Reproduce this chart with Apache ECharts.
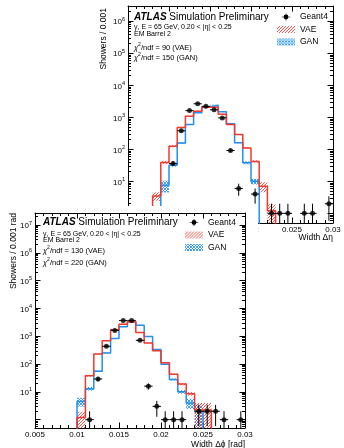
<!DOCTYPE html>
<html><head><meta charset="utf-8">
<script src="https://cdn.jsdelivr.net/npm/echarts@6/dist/echarts.min.js"></script>
<style>
html,body{margin:0;padding:0;background:#fff;}
#eta{position:absolute;left:0;top:0;width:344px;height:448px;}
#phi{position:absolute;left:0;top:206px;width:258px;height:242px;background:#fff;}
</style></head><body>
<div id="eta"></div><div id="phi"></div>
<script>
// ---- data ----
const binEdges = [0.005,0.006,0.007,0.008,0.009,0.010,0.011,0.012,0.013,0.014,0.015,0.016,0.017,0.018,0.019,0.020,0.021,0.022,0.023,0.024,0.025,0.026,0.027,0.028,0.029,0.030];
const xTicks = [0.005,0.01,0.015,0.02,0.025,0.03];

const vaeEta    = [0,0,0,3.5,39,125,480,1080,1550,2050,2050,1250,600,290,110,42,7,1.2,0,0,0,0,0,0,0];
const vaeEtaErr = [0,0,0,0.3,0.12,0.07,0.04,0.03,0.03,0.03,0.03,0.03,0.03,0.03,0.05,0.08,0.35,0.6,0,0,0,0,0,0,0];
const ganEta    = [0,0,0,0,7.5,32,158,600,1400,2100,2400,1500,630,162,38,10,0,0,0,0,0,0,0,0,0];
const ganEtaErr = [0,0,0,0,0.4,0.1,0.05,0.03,0.03,0.03,0.03,0.03,0.03,0.04,0.1,0.2,0,0,0,0,0,0,0,0,0];
const g4Eta     = [0,0,0,0,0,36,380,1620,2650,2200,1720,960,92,6,0,4,0,1,1,1,0,1,1,0,2];

const vaePhi    = [0,0,0,0,0,1.2,38,230,680,1700,2700,3300,1350,575,300,110,43,19,8.5,2.2,2.2,0,0,0,0];
const vaePhiErr = [0,0,0,0,0,0.6,0.08,0.04,0.03,0.03,0.03,0.03,0.03,0.03,0.03,0.03,0.06,0.1,0.15,0.8,0.8,0,0,0,0];
const ganPhi    = [0,0,0,0,0,4.5,13,55,250,830,2200,3300,2500,970,330,98,28,10,4,2,0,0,0,0,0];
const ganPhiErr = [0,0,0,0,0,0.35,0.15,0.06,0.03,0.03,0.03,0.03,0.03,0.03,0.03,0.04,0.08,0.15,0.4,0.75,0,0,0,0,0];
const g4Phi     = [0,0,0,0,0,0,1,29,434,1620,3650,3700,710,16,3,1,1,1,0,2,2,2,1,0,1];

const etaYRange = [0.5, 3e6];
const phiYRange = [0.5, 2.7e7];
const decades = [0.1,1,10,100,1e3,1e4,1e5,1e6,1e7];
const minorMultipliers = [2,3,4,5,6,7,8,9];

// ---- styling ----
const FONT = '"Liberation Sans", Arial, Helvetica, sans-serif';
const RED = '#f5372e';
const BLUE = '#1e90f0';
const FLOOR = 0.2;

function hatch(color, cross) {
  const c = document.createElement('canvas');
  c.width = 3; c.height = 3;
  const g = c.getContext('2d');
  g.fillStyle = color;
  for (let i = 0; i < 3; i++) {
    g.fillRect(i, 2 - i, 1, 1);
    if (cross) g.fillRect(i, i, 1, 1);
  }
  return {image: c, repeat: 'repeat'};
}
const redPat = hatch('rgba(245,55,46,0.85)', false);
const bluePat = hatch('rgba(30,144,240,0.85)', true);

const G4ICON = 'path://M0,3.6H10V4.4H0Z M4.6,0H5.4V8H4.6Z M2.2,4A2.8,2.8 0 1 1 7.8,4A2.8,2.8 0 1 1 2.2,4Z';

function stepPoints(vals) {
  const pts = [];
  vals.forEach((v, k) => {
    const y = v > 0 ? v : FLOOR;
    pts.push([binEdges[k], y], [binEdges[k+1], y]);
  });
  return pts;
}
function bandData(vals, errs) {
  const d = [];
  vals.forEach((v, k) => { if (v > 0) d.push([binEdges[k], binEdges[k+1], v, errs[k]]); });
  return d;
}
function pointData(vals) {
  const d = [];
  vals.forEach((v, k) => { if (v > 0) d.push([(binEdges[k] + binEdges[k+1]) / 2, v, binEdges[k], binEdges[k+1]]); });
  return d;
}
function bandRender(pat) {
  return function (params, api) {
    const lo = api.value(0), hi = api.value(1), v = api.value(2), e = api.value(3);
    const p1 = api.coord([lo, v * (1 + e)]);
    const p2 = api.coord([hi, Math.max(v * (1 - e), FLOOR)]);
    return {type: 'rect', shape: {x: p1[0], y: p1[1], width: p2[0] - p1[0], height: p2[1] - p1[1]},
            style: {fill: pat}};
  };
}
function errRender(params, api) {
  const x = api.value(0), v = api.value(1), lo = api.value(2), hi = api.value(3);
  const s = Math.sqrt(v);
  const c = api.coord([x, v]);
  const t = api.coord([x, v + s]);
  const b = api.coord([x, Math.max(v - s, FLOOR)]);
  const l = api.coord([lo, v]);
  const r = api.coord([hi, v]);
  return {type: 'group', children: [
    {type: 'line', shape: {x1: c[0], y1: t[1], x2: c[0], y2: b[1]}, style: {stroke: '#000', lineWidth: 1}},
    {type: 'line', shape: {x1: l[0], y1: c[1], x2: r[0], y2: c[1]}, style: {stroke: '#000', lineWidth: 1}}
  ]};
}

function yLabel(v) {
  const e = Math.log10(v);
  const r = Math.round(e);
  if (Math.abs(e - r) < 1e-6 && r >= 1) return '{b|10}{e|' + r + '}';
  return '';
}
// minor log ticks, expressed in log10 space for a helper linear axis spanning the same range
function minorLogTicks(yr) {
  const out = [];
  decades.forEach(d => minorMultipliers.forEach(m => {
    const v = m * d;
    if (v > yr[0] && v < yr[1]) out.push(Math.log10(v));
  }));
  return out;
}

function buildAxes(yr) {
  const line = {show: true, onZero: false, lineStyle: {color: '#000', width: 1}};
  const tick = {show: true, inside: true, length: 5.5, lineStyle: {color: '#000', width: 1}};
  const xBase = {type: 'value', min: xTicks[0], max: xTicks[xTicks.length - 1], interval: xTicks[1] - xTicks[0],
    axisLine: line, axisTick: tick, splitLine: {show: false},
    minorTick: {show: true, splitNumber: 5, length: 3, lineStyle: {color: '#000', width: 1}}};
  const yBase = {type: 'log', logBase: 10, min: yr[0], max: yr[1], splitLine: {show: false},
    axisLine: line, axisTick: tick};
  const helper = {type: 'value', min: Math.log10(yr[0]), max: Math.log10(yr[1]), splitLine: {show: false},
    axisLine: {show: false}, axisLabel: {show: false},
    axisTick: {show: true, inside: true, length: 3, lineStyle: {color: '#000', width: 1}, customValues: minorLogTicks(yr)}};
  return {
    xAxis: [
      Object.assign({}, xBase, {position: 'bottom',
        axisLabel: {fontSize: 8, color: '#000', margin: 3, fontFamily: FONT, showMinLabel: true, showMaxLabel: true}}),
      Object.assign({}, xBase, {position: 'top', axisLabel: {show: false}})
    ],
    yAxis: [
      Object.assign({}, yBase, {position: 'left',
        axisLabel: {formatter: yLabel, margin: 3, color: '#000', fontFamily: FONT,
          rich: {b: {fontSize: 8, fontFamily: FONT, color: '#000', lineHeight: 10, verticalAlign: 'bottom'},
                 e: {fontSize: 5.5, fontFamily: FONT, color: '#000', lineHeight: 10, verticalAlign: 'top'}}}}),
      Object.assign({}, yBase, {position: 'right', axisLabel: {show: false}}),
      Object.assign({}, helper, {position: 'left', offset: 0}),
      Object.assign({}, helper, {position: 'right', offset: 0})
    ]
  };
}

function buildSeries(vae, vaeErr, gan, ganErr, g4) {
  return [
    {name: 'GAN', type: 'custom', renderItem: bandRender(bluePat), data: bandData(gan, ganErr), clip: true, z: 2},
    {name: 'VAE', type: 'custom', renderItem: bandRender(redPat), data: bandData(vae, vaeErr), clip: true, z: 2},
    {name: 'GAN', type: 'line', data: stepPoints(gan), symbol: 'none', clip: true, z: 3,
      lineStyle: {color: BLUE, width: 1.5}, itemStyle: {color: BLUE}},
    {name: 'VAE', type: 'line', data: stepPoints(vae), symbol: 'none', clip: true, z: 3,
      lineStyle: {color: RED, width: 1.5}, itemStyle: {color: RED}},
    {name: 'Geant4', type: 'custom', renderItem: errRender, data: pointData(g4), clip: true, z: 4},
    {name: 'Geant4', type: 'scatter', data: pointData(g4), symbol: 'circle', symbolSize: 5, clip: true, z: 5,
      itemStyle: {color: '#000'}}
  ];
}

function legend(left, top) {
  return {orient: 'vertical', left: left, top: top, itemWidth: 18, itemHeight: 7, itemGap: 3.5,
    selectedMode: false, padding: 0,
    textStyle: {fontSize: 8.5, color: '#000', fontFamily: FONT},
    data: [
      {name: 'Geant4', icon: G4ICON, itemStyle: {color: '#000'}},
      {name: 'VAE', icon: 'rect', itemStyle: {color: redPat}},
      {name: 'GAN', icon: 'rect', itemStyle: {color: bluePat}}
    ]};
}

function txt(x, y, text, size, extra) {
  return Object.assign({type: 'text', x: x, y: y, z: 10,
    style: Object.assign({text: text, fontSize: size, fontFamily: FONT, fill: '#000', align: 'left', verticalAlign: 'middle'}, (extra && extra.style) || {})},
    extra && extra.rotation ? {rotation: extra.rotation} : {});
}
const atlasRich = {a: {fontSize: 10, fontWeight: 'bold', fontStyle: 'italic', fontFamily: FONT, fill: '#000'},
                   s: {fontSize: 10, fontFamily: FONT, fill: '#000'}};
const chiRich = {i: {fontSize: 7.5, fontStyle: 'italic', fontFamily: FONT, fill: '#000', lineHeight: 10, verticalAlign: 'bottom'},
                 p: {fontSize: 5, fontFamily: FONT, fill: '#000', lineHeight: 10, verticalAlign: 'top'},
                 n: {fontSize: 7.5, fontFamily: FONT, fill: '#000', lineHeight: 10, verticalAlign: 'bottom'}};

function texts(x0, ys, chiA, chiB, yTitle, yTitlePos, xTitle, xTitlePos) {
  return [
    txt(x0, ys[0], '{a|ATLAS} {s|Simulation Preliminary}', 10, {style: {rich: atlasRich}}),
    txt(x0, ys[1], 'γ, E = 65 GeV, 0.20 < |η| < 0.25', 7),
    txt(x0, ys[2], 'EM Barrel 2', 7),
    txt(x0, ys[3], '{i|χ}{p|2}{n|/ndf = ' + chiA + ' (VAE)}', 7.5, {style: {rich: chiRich}}),
    txt(x0, ys[4], '{i|χ}{p|2}{n|/ndf = ' + chiB + ' (GAN)}', 7.5, {style: {rich: chiRich}}),
    txt(yTitlePos[0], yTitlePos[1], yTitle, 8.5, {rotation: Math.PI / 2, style: {align: 'right'}}),
    txt(xTitlePos[0], xTitlePos[1], xTitle, 8.5, {style: {align: 'right'}})
  ];
}

const etaChart = echarts.init(document.getElementById('eta'), null, {renderer: 'canvas'});
etaChart.setOption(Object.assign({
  animation: false,
  backgroundColor: '#fff',
  grid: {left: 128, top: 6, width: 205, height: 217},
  legend: legend(277, 12.5),
  graphic: texts(134, [17, 27.5, 34.5, 47, 57], 90, 150, 'Showers / 0.001', [103.5, 8], 'Width Δη', [333, 238]),
  series: buildSeries(vaeEta, vaeEtaErr, ganEta, ganEtaErr, g4Eta)
}, buildAxes(etaYRange)));

const phiChart = echarts.init(document.getElementById('phi'), null, {renderer: 'canvas'});
phiChart.setOption(Object.assign({
  animation: false,
  backgroundColor: '#fff',
  grid: {left: 35, top: 7, width: 210, height: 215},
  legend: legend(185, 12),
  graphic: texts(43, [16.3, 27.8, 33.8, 44, 55.7], 130, 220, 'Showers / 0.001 rad', [13.5, 7], 'Width Δϕ [rad]', [245, 238.5]),
  series: buildSeries(vaePhi, vaePhiErr, ganPhi, ganPhiErr, g4Phi)
}, buildAxes(phiYRange)));
</script>
</body></html>
